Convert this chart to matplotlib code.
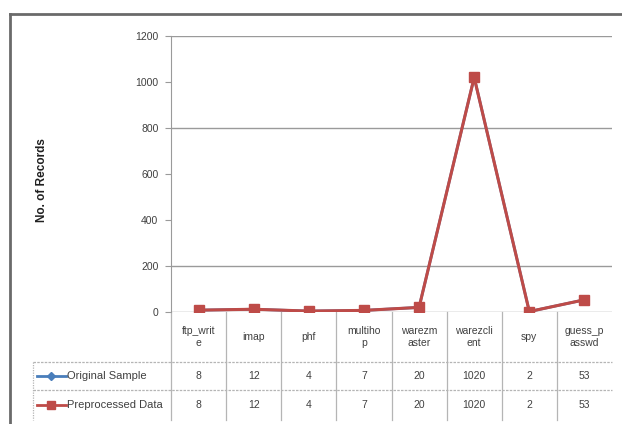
import matplotlib.pyplot as plt
from matplotlib.lines import Line2D
from matplotlib.transforms import blended_transform_factory

categories = ["ftp_writ\ne", "imap", "phf", "multiho\np", "warezm\naster",
              "warezcli\nent", "spy", "guess_p\nasswd"]
original_sample = [8, 12, 4, 7, 20, 1020, 2, 53]
preprocessed_data = [8, 12, 4, 7, 20, 1020, 2, 53]
series_names = ["Original Sample", "Preprocessed Data"]
y_ticks = [0, 200, 400, 600, 800, 1000, 1200]
grid_levels = [200, 800, 1200]

blue = "#4A7EBB"
red = "#BE4B48"
grid_c = "#9a9a9a"
text_c = "#404040"

plt.rcParams["font.family"] = ["Liberation Sans", "DejaVu Sans"]

W, H = 622, 424
fig = plt.figure(figsize=(W / 100, H / 100), dpi=100)

# plot area in pixels: left 171, right 612, top 36, bottom 312
ax = fig.add_axes([171 / W, (H - 312) / H, (612 - 171) / W, (312 - 36) / H])
x = list(range(len(categories)))

for g in grid_levels:
    ax.axhline(g, color=grid_c, lw=1.0, zorder=0)

ax.plot(x, original_sample, color=blue, lw=2, marker="D", ms=5,
        markerfacecolor=blue, markeredgecolor=blue, zorder=2)
ax.plot(x, preprocessed_data, color=red, lw=2.2, marker="s", ms=7,
        markerfacecolor=red, markeredgecolor=red, zorder=3)

ax.set_xlim(-0.5, len(categories) - 0.5)
ax.set_ylim(0, 1200)
ax.set_yticks(y_ticks)
ax.set_yticklabels([str(t) for t in y_ticks], fontsize=7.5, color=text_c)
ax.tick_params(axis="y", length=4, color=grid_c, pad=5)
ax.set_xticks([])
for s in ["top", "right", "bottom"]:
    ax.spines[s].set_visible(False)
ax.spines["left"].set_color(grid_c)
ax.axhline(0, color=grid_c, lw=1.0, zorder=1)

fig.text(42 / W, 1 - 180 / H, "No. of Records", rotation=90, fontsize=8.5,
         fontweight="bold", ha="center", va="center", color="#202020")

# data table under the axis
tr = blended_transform_factory(ax.transData, ax.transAxes)
ah = 312 - 36
row_edges = [(312 - p) / ah for p in (312, 362, 390, 420)]
aw = 612 - 171
left_col = (33 - 171) / aw

for i in range(len(categories)):
    ax.plot([i - 0.5, i - 0.5], [row_edges[0], row_edges[-1]], transform=tr,
            color="#b5b5b5", lw=0.9, clip_on=False)
for r in row_edges[1:3]:
    ax.plot([left_col, 1], [r, r], transform=ax.transAxes,
            color="#b5b5b5", lw=0.9, ls=(0, (2, 1)), clip_on=False)
ax.plot([left_col, left_col], [row_edges[1], row_edges[-1]], transform=ax.transAxes,
        color="#b5b5b5", lw=0.9, ls=(0, (1, 1)), clip_on=False)

for i, c in enumerate(categories):
    ax.text(i, (row_edges[0] + row_edges[1]) / 2, c, transform=tr, ha="center",
            va="center", fontsize=7.5, color=text_c, linespacing=1.3)

rows = [original_sample, preprocessed_data]
for k, vals in enumerate(rows):
    yc = (row_edges[k + 1] + row_edges[k + 2]) / 2
    for i, v in enumerate(vals):
        ax.text(i, yc, str(v), transform=tr, ha="center", va="center",
                fontsize=7.5, color=text_c)

# legend keys in the first column
key_specs = [(blue, "D", 4), (red, "s", 6)]
for k, (name, (col, mk, ms)) in enumerate(zip(series_names, key_specs)):
    yc = (row_edges[k + 1] + row_edges[k + 2]) / 2
    x0 = (37 - 171) / aw
    x1 = (66 - 171) / aw
    ax.add_line(Line2D([x0, x1], [yc, yc], transform=ax.transAxes,
                       color=col, lw=2, clip_on=False))
    ax.add_line(Line2D([(x0 + x1) / 2], [yc], transform=ax.transAxes, color=col,
                       marker=mk, ms=ms, clip_on=False))
    ax.text(x1 + 0.002, yc, name, transform=ax.transAxes, ha="left",
            va="center", fontsize=8, color=text_c)

# chart frame
fig.add_artist(Line2D([10 / W, 10 / W], [0, 1 - 14 / H], color="#6a6a6a", lw=2))
fig.add_artist(Line2D([10 / W, 1], [1 - 14 / H, 1 - 14 / H], color="#6a6a6a", lw=2))

fig.savefig("out.png", dpi=100)
